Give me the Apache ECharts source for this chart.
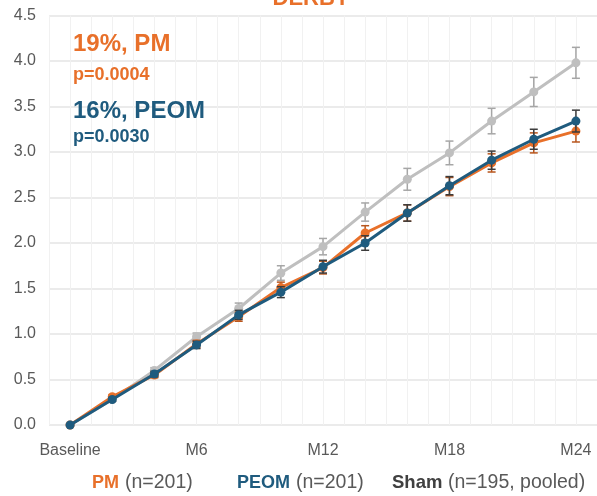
<!DOCTYPE html>
<html>
<head>
<meta charset="utf-8">
<script src="https://cdn.jsdelivr.net/npm/echarts@6/dist/echarts.min.js"></script>
<style>
html,body{margin:0;padding:0;background:#fff;}
#chart{width:597px;height:496px;}
</style>
</head>
<body>
<div id="chart"></div>
<script>
// Months from baseline
const months = [0, 2, 4, 6, 8, 10, 12, 14, 16, 18, 20, 22, 24];
// Mean change values
const pmValues   = [0, 0.31, 0.55, 0.89, 1.19, 1.51, 1.73, 2.11, 2.33, 2.62, 2.88, 3.10, 3.23];
const peomValues = [0, 0.28, 0.56, 0.88, 1.21, 1.46, 1.74, 2.00, 2.33, 2.63, 2.91, 3.14, 3.34];
const shamValues = [0, 0.28, 0.60, 0.97, 1.28, 1.67, 1.96, 2.34, 2.70, 2.99, 3.34, 3.66, 3.98];
// Error bar half-widths
const pmErr   = [0, 0.02, 0.03, 0.04, 0.05, 0.06, 0.07, 0.08, 0.09, 0.10, 0.10, 0.11, 0.12];
const peomErr = [0, 0.02, 0.03, 0.04, 0.05, 0.06, 0.07, 0.08, 0.09, 0.10, 0.10, 0.11, 0.12];
const shamErr = [0, 0.02, 0.03, 0.04, 0.06, 0.08, 0.09, 0.10, 0.12, 0.13, 0.14, 0.16, 0.17];
// Tick labels
const xTickMonths = [0, 6, 12, 18, 24];
const xTickLabels = ['Baseline', 'M6', 'M12', 'M18', 'M24'];
const seriesNames = ['Sham', 'PM', 'PEOM'];
const legendNotes = ['(n=195, pooled)', '(n=201)', '(n=201)'];
const annotations = ['19%, PM', 'p=0.0004', '16%, PEOM', 'p=0.0030'];
const titleText = 'DERBY';

const C_PM = '#E8702A', C_PEOM = '#1F5B7E', C_SHAM = '#BFBFBF';
const FONT = '"Liberation Sans", Arial, sans-serif';

function pairs(vals) { return months.map((m, i) => [m, vals[i]]); }
function errData(vals, errs) {
  return months.map((m, i) => [m, vals[i] - errs[i], vals[i] + errs[i]]).filter((d, i) => errs[i] > 0);
}
function errSeries(name, vals, errs, color, z) {
  return {
    type: 'custom', name: name + ' err', z: z, silent: true,
    data: errData(vals, errs),
    renderItem: function (params, api) {
      const lo = api.coord([api.value(0), api.value(1)]);
      const hi = api.coord([api.value(0), api.value(2)]);
      const w = 4;
      const st = { stroke: color, lineWidth: 1.5 };
      return { type: 'group', children: [
        { type: 'line', shape: { x1: lo[0], y1: lo[1], x2: hi[0], y2: hi[1] }, style: st },
        { type: 'line', shape: { x1: lo[0] - w, y1: lo[1], x2: lo[0] + w, y2: lo[1] }, style: st },
        { type: 'line', shape: { x1: hi[0] - w, y1: hi[1], x2: hi[0] + w, y2: hi[1] }, style: st }
      ]};
    }
  };
}
function lineSeries(name, vals, color, z) {
  return {
    type: 'line', name: name, z: z, data: pairs(vals),
    symbol: 'circle', symbolSize: 9, showSymbol: true,
    lineStyle: { color: color, width: 3 },
    itemStyle: { color: color },
    emphasis: { disabled: true }
  };
}
function txt(x, y, text, fill, font, extra) {
  return Object.assign({ type: 'text', x: x, y: y, z: 100,
    style: { text: text, fill: fill, font: font, textVerticalAlign: 'middle' } }, extra || {});
}

const chart = echarts.init(document.getElementById('chart'), null, { renderer: 'canvas' });
chart.setOption({
  animation: false,
  backgroundColor: '#fff',
  grid: { left: 49, top: 15.5, width: 554.7, height: 409.5, containLabel: false },
  xAxis: {
    type: 'value', min: -1, max: 25, interval: 1,
    axisLine: { show: false }, axisTick: { show: false },
    splitLine: { show: true, lineStyle: { color: '#F1F1F1', width: 1 } },
    axisLabel: {
      margin: 18, fontSize: 16, color: '#595959', fontFamily: FONT,
      showMinLabel: false, showMaxLabel: false,
      formatter: function (v) { const i = xTickMonths.indexOf(v); return i >= 0 ? xTickLabels[i] : ''; }
    }
  },
  yAxis: {
    type: 'value', min: 0, max: 4.5, interval: 0.5,
    axisLine: { show: false }, axisTick: { show: false },
    splitLine: { show: true, lineStyle: { color: '#E4E4E4', width: 1.5 } },
    axisLabel: { margin: 13, fontSize: 16, color: '#595959', fontFamily: FONT, formatter: v => v.toFixed(1) }
  },
  series: [
    errSeries('Sham', shamValues, shamErr, '#A6A6A6', 2),
    lineSeries('Sham', shamValues, C_SHAM, 3),
    errSeries('PM', pmValues, pmErr, '#B8551C', 4),
    lineSeries('PM', pmValues, C_PM, 5),
    errSeries('PEOM', peomValues, peomErr, '#3C3C3C', 6),
    lineSeries('PEOM', peomValues, C_PEOM, 7)
  ],
  graphic: [
    { type: 'text', x: 311, y: -1, z: 100, style: { text: titleText, fill: C_PM, font: 'bold 22px ' + FONT, textAlign: 'center', textVerticalAlign: 'middle' } },
    txt(73, 44, annotations[0], C_PM, 'bold 24px ' + FONT),
    txt(73, 75, annotations[1], C_PM, 'bold 18px ' + FONT),
    txt(73, 111, annotations[2], C_PEOM, 'bold 24px ' + FONT),
    txt(73, 137, annotations[3], C_PEOM, 'bold 18px ' + FONT),
    txt(92, 483, seriesNames[1], C_PM, 'bold 18px ' + FONT),
    txt(125, 483, legendNotes[1], '#595959', '19.5px ' + FONT),
    txt(237, 483, seriesNames[2], C_PEOM, 'bold 18px ' + FONT),
    txt(296, 483, legendNotes[2], '#595959', '19.5px ' + FONT),
    txt(392, 483, seriesNames[0], '#404040', 'bold 18.5px ' + FONT),
    txt(448, 483, legendNotes[0], '#595959', '19.5px ' + FONT)
  ]
});
</script>
</body>
</html>
